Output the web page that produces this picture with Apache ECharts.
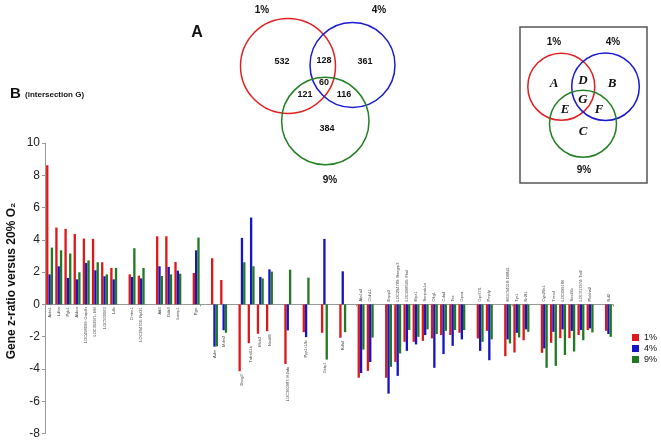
<!DOCTYPE html>
<html><head><meta charset="utf-8">
<script src="https://cdn.jsdelivr.net/npm/echarts@6/dist/echarts.min.js"></script>
<style>html,body{margin:0;padding:0;background:#fff}#c{width:661px;height:442px}</style>
</head><body><div id="c"></div>
<script>
// Gene categories ('' = spacer slot between gene groups)
const genes = ['Acta1','Ldha','Pgk1','Aldoa','LOC498099: Gapdh','LOC362971: Mif','LOC500063','Ldb','',
 'Cmtm1','LOC294700: Rpl21','','Atf4','Ddit4','Lamp1','','Pgis','','Adm','Mdm2','',
 'Dscg3','Tnfrsf11b','Mob2','Nedd9','','LOC360987: H2afx','','Ppp1r14b','','Gstp1','','Rdh4','',
 'Atp1a2','Cldn11','','Enpp2','LOC294789: Rasgrp3','LOC498546: Fbxl','Mpz1','Serpinb1a','Olig1','Cdad','Tsc','Gpsa','',
 'Gpr37l1','Pmply','','MGC94018: Dll8d1','Tyr1','Nr2f1','','Cyp26b1','Tmod','LOC499186','Sec24c','LOC313974: Tst2','Plekha2','','Nd2'];
const seriesNames = ['1%','4%','9%'];
const v1 = [8.62,4.76,4.68,4.37,4.08,4.06,2.61,2.26,null,1.86,1.78,null,4.22,4.22,2.63,null,1.95,null,2.86,1.51,null,
 -4.14,-2.4,-1.82,-1.66,null,-3.69,null,-1.72,null,-1.76,null,-2.07,null,
 -4.54,-4.12,null,-4.55,-3.56,-2.32,-2.32,-2.26,-2.11,-1.9,-1.9,-1.76,null,
 -2.11,-1.64,null,-3.21,-2.98,-2.22,null,-3.0,-2.38,-2.09,-2.09,-1.9,-1.59,null,-1.64];
const v4 = [1.86,2.36,1.64,1.55,2.57,2.11,1.74,1.55,null,1.70,1.61,null,2.36,2.32,2.09,null,3.35,null,-2.62,-1.6,null,
 4.12,5.38,1.70,2.17,null,-1.61,null,-2.03,null,4.06,null,2.05,null,
 -4.25,-3.57,null,-5.53,-4.43,-2.88,-2.48,-1.9,-3.93,-3.08,-2.57,-2.17,null,
 -2.88,-3.46,null,-2.17,-1.76,-1.55,null,-2.73,-1.7,-1.55,-1.64,-1.59,-1.49,null,-1.84];
const v9 = [3.52,3.35,3.15,1.99,2.73,2.61,1.86,2.26,null,3.48,2.26,null,1.76,1.86,1.90,null,4.14,null,-2.6,-1.76,null,
 2.61,2.36,1.61,2.03,null,2.15,null,1.66,null,-3.42,null,-1.72,null,
 -2.8,-2.06,null,-3.87,-3.04,-1.59,-2.01,-1.55,-1.84,-1.64,-1.59,-1.59,null,
 -2.32,-2.17,null,-2.42,-2.05,-1.7,null,-3.93,-3.81,-3.13,-2.92,-2.22,-1.74,null,-2.01];
const yTicks = [-8,-6,-4,-2,0,2,4,6,8,10];
// Venn counts: A(1% only), D(1%&4%), B(4% only), G(all), E(1%&9%), F(4%&9%), C(9% only)
const vennCounts = {A:532, D:128, B:361, G:60, E:121, F:116, C:384};

const colors = ['#dd1818','#1414c8','#217a21'];
const FONT = '"Liberation Sans", Arial, sans-serif';

// label anchors derived from values
const labelData = [];
genes.forEach((g,i)=>{
  if(!g) return;
  const vals=[v1[i],v4[i],v9[i]];
  const allPos = vals.every(v=>v>0), allNeg = vals.every(v=>v<0);
  if(allPos) labelData.push([i,0,1,g]);
  else if(allNeg) labelData.push([i,0,-1,g]);
  else labelData.push([i,Math.min(...vals),1,g]);
});

const chart = echarts.init(document.getElementById('c'));
const vennText = (t,x,y)=>({type:'text',x,y,style:{text:String(t),font:'bold 9px '+FONT,fill:'#111',align:'center',verticalAlign:'middle'}});
const letter = (t,x,y)=>({type:'text',x,y,style:{text:t,font:'italic bold 13px "Liberation Serif", "Times New Roman", serif',fill:'#111',align:'center',verticalAlign:'middle'}});
const circ = (cx,cy,r,c)=>({type:'circle',shape:{cx,cy,r},style:{fill:null,stroke:c,lineWidth:1.5}});
const pct = (t,x,y)=>({type:'text',x,y,style:{text:t,font:'bold 10px '+FONT,fill:'#111',align:'center',verticalAlign:'middle'}});

chart.setOption({
  animation:false,
  backgroundColor:'#fff',
  grid:{left:45,right:48,top:143,bottom:8.5},
  legend:{data:seriesNames,orient:'vertical',left:627,top:327,itemWidth:7,itemHeight:7,itemGap:0,icon:'rect',
    textStyle:{fontSize:9,fontFamily:FONT,color:'#111',lineHeight:11}},
  xAxis:{type:'category',data:genes,axisLine:{onZero:true,lineStyle:{color:'#999',width:1}},
    axisTick:{show:true,length:2,lineStyle:{color:'#999'}},axisLabel:{show:false},splitLine:{show:false}},
  yAxis:{type:'value',min:-8,max:10,interval:2,
    axisLine:{show:true,lineStyle:{color:'#999'}},axisTick:{show:true,length:3,lineStyle:{color:'#999'}},
    splitLine:{show:false},
    axisLabel:{fontSize:12,fontFamily:FONT,color:'#222',margin:5,
      formatter:v=>yTicks.includes(v)?String(v):''}},
  series:[
    ...seriesNames.map((n,k)=>({name:n,type:'bar',data:[v1,v4,v9][k],barGap:'0%',barCategoryGap:'24%',
      itemStyle:{color:colors[k]}})),
    {type:'custom',coordinateSystem:'cartesian2d',data:labelData.map(d=>[d[0],d[1],d[2]]),
      encode:{x:0,y:1},clip:false,z:5,silent:true,
      renderItem:(params,api)=>{
        const p=api.coord([api.value(0),api.value(1)]);
        const side=api.value(2);
        return {type:'text',x:p[0],y:p[1]+(side>0?3:-3),rotation:Math.PI/2,
          style:{text:labelData[params.dataIndex][3],align:side>0?'right':'left',verticalAlign:'middle',
            font:'4px '+FONT,fill:'#444'}};
      }}
  ],
  graphic:[
    {type:'text',x:197,y:33,style:{text:'A',font:'bold 16px '+FONT,fill:'#111',align:'center',verticalAlign:'middle'}},
    pct('1%',262,10), pct('4%',379,10), pct('9%',330,180),
    circ(288,66,47.5,'#e02020'), circ(352.5,65,42.5,'#1a1ad0'), circ(325.3,121,43.7,'#238023'),
    vennText(vennCounts.A,282,62), vennText(vennCounts.D,324,61), vennText(vennCounts.B,365,62),
    vennText(vennCounts.G,324,83), vennText(vennCounts.E,305,95), vennText(vennCounts.F,344,95),
    vennText(vennCounts.C,327,129),
    {type:'rect',shape:{x:520,y:27,width:127,height:156},style:{fill:null,stroke:'#555',lineWidth:1.5}},
    pct('1%',554,42), pct('4%',613,42), pct('9%',584,170),
    circ(561.3,86.7,33.5,'#e02020'), circ(605.5,86.7,33.8,'#1a1ad0'), circ(583,123.7,33.5,'#238023'),
    letter('A',554,84), letter('D',583,81), letter('B',612,84), letter('G',583,100),
    letter('E',565,110), letter('F',599,110), letter('C',583,132),
    {type:'text',x:10,y:94,style:{text:'B',font:'bold 15px '+FONT,fill:'#111',align:'left',verticalAlign:'middle'}},
    {type:'text',x:25,y:95,style:{text:'(intersection G)',font:'bold 8px '+FONT,fill:'#111',align:'left',verticalAlign:'middle'}},
    {type:'text',x:12,y:281,rotation:Math.PI/2,style:{text:'Gene z-ratio versus 20% O\u2082',font:'bold 12px '+FONT,fill:'#111',align:'center',verticalAlign:'middle'}}
  ]
});
</script></body></html>
